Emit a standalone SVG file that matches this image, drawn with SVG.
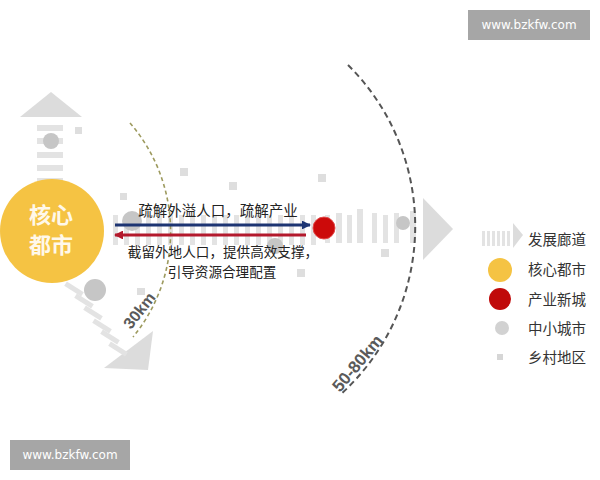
<svg xmlns="http://www.w3.org/2000/svg" width="600" height="480" viewBox="0 0 600 480">
<style>
.bar{fill:#e3e3e3}
.sq{fill:#dedede}
.gc{fill:#c6c6c6}
.cn{font-family:"Noto Sans CJK SC","Noto Sans",sans-serif;fill:#222}
.leg{font-family:"Noto Sans CJK SC","Noto Sans",sans-serif;font-size:14.5px;fill:#333}
.km{font-family:"Liberation Sans",Arial,sans-serif;font-weight:bold;fill:#5a5a5a}
.wm{font-family:"DejaVu Sans",sans-serif;font-size:12px;fill:#fff}
</style>
<defs>
<marker id="ab" viewBox="0 0 10 10" refX="9" refY="5" markerWidth="3.2" markerHeight="3.2" orient="auto"><path d="M0,0L10,5L0,10z" fill="#1d3572"/></marker>
<marker id="ar" viewBox="0 0 10 10" refX="9" refY="5" markerWidth="3.2" markerHeight="3.2" orient="auto"><path d="M0,0L10,5L0,10z" fill="#b3192c"/></marker>
</defs>
<rect width="600" height="480" fill="#fff"/>

<g id="up-corridor">
<polygon points="20,117 51,92 82,117" fill="#dcdcdc"/>
<rect class="bar" x="37" y="125" width="26" height="6"/>
<rect class="bar" x="37" y="138" width="26" height="6"/>
<rect class="bar" x="37" y="152" width="26" height="6"/>
<rect class="bar" x="37" y="165" width="26" height="6"/>
<rect class="bar" x="37" y="178" width="26" height="6"/>
<circle class="gc" cx="51" cy="141" r="8"/>
<rect class="sq" x="75" y="127" width="7" height="7"/>
</g>

<g id="diag-corridor">
<polygon points="104,368 153,331 148,370" fill="#dcdcdc"/>
<g class="bar">
<rect x="-10" y="-2.5" width="20" height="5" transform="translate(74,289) rotate(32)"/>
<rect x="-10" y="-2.5" width="20" height="5" transform="translate(84,301) rotate(32)"/>
<rect x="-10" y="-2.5" width="20" height="5" transform="translate(93,313) rotate(32)"/>
<rect x="-10" y="-2.5" width="20" height="5" transform="translate(102,326) rotate(32)"/>
<rect x="-10" y="-2.5" width="20" height="5" transform="translate(110,337) rotate(32)"/>
<rect x="-10" y="-2.5" width="20" height="5" transform="translate(118,349) rotate(32)"/>
</g>
<circle class="gc" cx="95" cy="290" r="11"/>
<rect class="sq" x="137" y="288" width="8" height="7"/>
</g>

<g id="h-corridor">
<polygon points="423,198 453,229 423,260" fill="#dcdcdc"/>
<g class="bar">
<rect x="113" y="215" width="5" height="30"/><rect x="124" y="215" width="5" height="30"/><rect x="135" y="215" width="5" height="30"/><rect x="146" y="215" width="5" height="30"/><rect x="157" y="215" width="5" height="30"/><rect x="168" y="215" width="5" height="30"/><rect x="179" y="215" width="5" height="30"/><rect x="190" y="215" width="5" height="30"/><rect x="201" y="215" width="5" height="30"/><rect x="212" y="215" width="5" height="30"/><rect x="223" y="215" width="5" height="30"/><rect x="234" y="215" width="5" height="30"/><rect x="245" y="215" width="5" height="30"/><rect x="256" y="215" width="5" height="30"/><rect x="267" y="215" width="5" height="30"/><rect x="278" y="215" width="5" height="30"/><rect x="289" y="215" width="5" height="30"/><rect x="300" y="215" width="5" height="30"/><rect x="311" y="215" width="5" height="30"/><rect x="325" y="215" width="5" height="28"/><rect x="336" y="213" width="6" height="30"/><rect x="347" y="215" width="5" height="28"/><rect x="357" y="209" width="6" height="34"/><rect x="372" y="213" width="5" height="30"/><rect x="383" y="215" width="5" height="28"/><rect x="394" y="213" width="5" height="30"/><rect x="410" y="211" width="6" height="32"/>
</g>
<circle class="gc" cx="132" cy="221" r="10"/>
<circle class="gc" cx="275" cy="246" r="8"/>
<circle class="gc" cx="403" cy="223" r="7"/>
<rect class="sq" x="180" y="168" width="8" height="8"/>
<rect class="sq" x="229" y="182" width="8" height="8"/>
<rect class="sq" x="120" y="193" width="7" height="7"/>
<rect class="sq" x="318" y="174" width="8" height="8"/>
<rect class="sq" x="381" y="249" width="8" height="8"/>
<rect class="sq" x="297" y="269" width="8" height="8"/>
</g>

<g id="arcs">
<path d="M130,123 A166,166 0 0,1 133,337" fill="none" stroke="#9d9a5e" stroke-width="1.6" stroke-dasharray="4,3"/>
<path d="M348,65 A227,227 0 0,1 340,395" fill="none" stroke="#555" stroke-width="2" stroke-dasharray="6,4"/>
<text class="km" font-size="16" transform="translate(131,330) rotate(-52)">30km</text>
<text class="km" font-size="17" transform="translate(340,393) rotate(-50)">50-80km</text>
</g>

<g id="core-city">
<circle cx="52" cy="231" r="52" fill="#f5c343"/>
<text x="51" y="223" font-family="Noto Sans CJK SC,sans-serif" font-size="22" font-weight="bold" fill="#fff8ea" text-anchor="middle">核心</text>
<text x="51" y="253" font-family="Noto Sans CJK SC,sans-serif" font-size="22" font-weight="bold" fill="#fff8ea" text-anchor="middle">都市</text>
</g>

<g id="new-city">
<circle cx="324" cy="228" r="11" fill="#cc0a0a" stroke="#e24a4a" stroke-width="1"/>
</g>

<g id="connectors">
<line x1="115" y1="225" x2="310" y2="225" stroke="#1d3572" stroke-width="2.8" marker-end="url(#ab)"/>
<line x1="306" y1="235" x2="115" y2="235" stroke="#b3192c" stroke-width="2.8" marker-end="url(#ar)"/>
</g>

<g id="labels">
<text class="cn" x="218" y="216" font-size="14.5" text-anchor="middle">疏解外溢人口，疏解产业</text>
<text class="cn" x="223" y="257" font-size="13.6" text-anchor="middle">截留外地人口，提供高效支撑，</text>
<text class="cn" x="222" y="277" font-size="13.6" text-anchor="middle">引导资源合理配置</text>
</g>

<g id="legend">
<g class="bar"><rect x="482" y="231" width="3" height="15"/><rect x="487" y="231" width="3" height="15"/><rect x="492" y="231" width="3" height="15"/><rect x="497" y="231" width="3" height="15"/><rect x="502" y="231" width="3" height="15"/><rect x="507" y="231" width="3" height="15"/></g>
<polygon points="513,223 523,235 513,248" fill="#dcdcdc"/>
<text class="leg" x="528" y="245">发展廊道</text>
<circle cx="500" cy="270" r="12" fill="#f5c343"/>
<text class="leg" x="528" y="275">核心都市</text>
<circle cx="500" cy="299" r="11" fill="#c00a0a"/>
<text class="leg" x="528" y="305">产业新城</text>
<circle cx="502" cy="328" r="7" fill="#d2d2d2"/>
<text class="leg" x="528" y="334">中小城市</text>
<rect x="497" y="354" width="6" height="6" fill="#d6d6d6"/>
<text class="leg" x="528" y="363">乡村地区</text>
</g>

<g id="watermarks">
<rect x="468" y="10" width="122" height="30" fill="#a6a6a6"/>
<text class="wm" x="529" y="29" text-anchor="middle">www.bzkfw.com</text>
<rect x="10" y="440" width="120" height="30" fill="#a6a6a6"/>
<text class="wm" x="70" y="459" text-anchor="middle">www.bzkfw.com</text>
</g>
</svg>
